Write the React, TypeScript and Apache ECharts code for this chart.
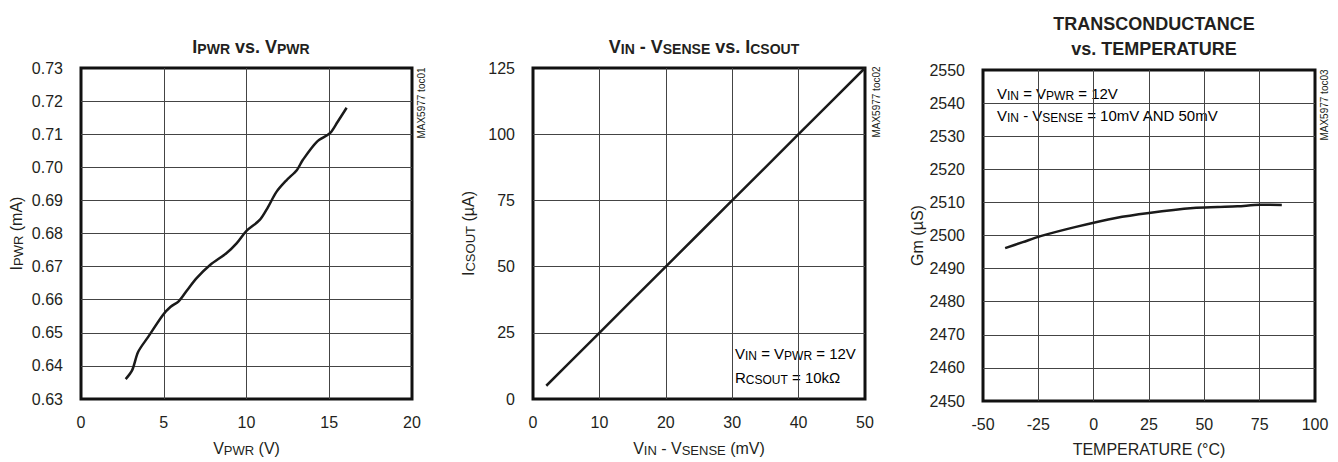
import React, { useEffect, useRef } from "react";
import * as echarts from "echarts";

const FONT = "'Liberation Sans Narrow','Arial Narrow','Liberation Sans',Arial,sans-serif";
const INK = "#231f20";

// Chart 1: IPWR vs VPWR
const vpwr = [2.7, 3.1, 3.45, 4.05, 4.95, 5.4, 5.9, 6.4, 7.0, 7.8, 8.8, 9.4, 10.0, 10.8, 11.3, 11.8, 12.4, 13.05, 13.4, 14.25, 15.04, 15.5, 16.05];
const ipwr = [0.636, 0.6388, 0.6442, 0.6487, 0.6554, 0.6578, 0.6595, 0.6628, 0.6666, 0.6705, 0.6741, 0.677, 0.6808, 0.6841, 0.688, 0.6925, 0.696, 0.6992, 0.7022, 0.7077, 0.7103, 0.7137, 0.718];

// Chart 2: VIN - VSENSE vs ICSOUT
const vsense = [2, 5, 10, 15, 20, 25, 30, 35, 40, 45, 50];
const icsout = [5, 12.5, 25, 37.5, 50, 62.5, 75, 87.5, 100, 112.5, 125];

// Chart 3: Transconductance vs temperature
const temps = [-40, -32, -24, -8, 10, 25, 45, 56, 65, 75, 85];
const gm = [2496.2, 2498, 2499.8, 2502.6, 2505.3, 2506.8, 2508.3, 2508.6, 2508.8, 2509.3, 2509.2];

const xTicks1 = [0, 20, 5];
const yTicks1 = [0.63, 0.73, 0.01];
const xTicks2 = [0, 50, 10];
const yTicks2 = [0, 125, 25];
const xTicks3 = [-50, 100, 25];
const yTicks3 = [2450, 2550, 10];

const zip = (a: number[], b: number[]) => a.map((v, i) => [v, b[i]]);

function rich(size: number, sub: number, bold = false, lineHeight?: number) {
  const w = bold ? "bold" : "normal";
  const lh = lineHeight ? { lineHeight } : {};
  return {
    n: { fontSize: size, fontFamily: FONT, color: INK, fontWeight: w, ...lh },
    s: { fontSize: sub, fontFamily: FONT, color: INK, fontWeight: w, padding: [Math.round(size * 0.3), 0, 0, 0], ...lh },
  };
}

export default function App() {
  const ref = useRef<HTMLDivElement>(null);
  useEffect(() => {
    if (!ref.current) return;
    const chart = echarts.init(ref.current, undefined, { renderer: "svg" });
    const grids = [
      { left: 81, top: 68, width: 331, height: 331 },
      { left: 533, top: 68, width: 332, height: 331 },
      { left: 983, top: 70, width: 332, height: 331 },
    ];
    const gridStyle = { show: true, borderColor: "#111", borderWidth: 3, backgroundColor: "#fff" };
    const splitLine = { show: true, showMinLine: false, showMaxLine: false, lineStyle: { color: "#444", width: 1 } };
    const mkX = (i: number, t: number[], name: string) => ({
      type: "value", gridIndex: i, min: t[0], max: t[1], interval: t[2],
      axisLine: { show: false }, axisTick: { show: false }, splitLine,
      axisLabel: { fontFamily: FONT, fontSize: 16, color: INK, margin: 15 },
      name, nameLocation: "middle", nameGap: 40,
      nameTextStyle: { rich: rich(16, 13) },
    });
    const mkY = (i: number, t: number[], name: string, fmt: (v: number) => string) => ({
      type: "value", gridIndex: i, min: t[0], max: t[1], interval: t[2],
      axisLine: { show: false }, axisTick: { show: false }, splitLine,
      axisLabel: { fontFamily: FONT, fontSize: 16, color: INK, margin: 18, formatter: fmt },
      name, nameLocation: "middle", nameGap: 56, nameRotate: 90,
      nameTextStyle: { rich: rich(16, 13) },
    });
    const lineSeries = (i: number, data: number[][], smooth: number) => ({
      type: "line", xAxisIndex: i, yAxisIndex: i, data, symbol: "none", smooth,
      lineStyle: { color: "#1a1a1a", width: 2.5 }, z: 5,
    });
    const sideText = (x: number, y: number, text: string) => ({
      type: "text", x, y, rotation: Math.PI / 2, z: 50,
      style: { text, fontFamily: FONT, fontSize: 10, fill: INK, align: "center", verticalAlign: "middle" },
    });
    const titleRich = rich(18, 14, true);
    chart.setOption({
      animation: false,
      grid: grids.map((g) => ({ ...g, ...gridStyle })),
      title: [
        { text: "{n|I}{s|PWR}{n| vs. V}{s|PWR}", left: 246, top: 32, textAlign: "center", textStyle: { rich: titleRich } },
        { text: "{n|V}{s|IN}{n| - V}{s|SENSE}{n| vs. I}{s|CSOUT}", left: 699, top: 32, textAlign: "center", textStyle: { rich: titleRich } },
        { text: "{n|TRANSCONDUCTANCE}\n{n|vs. TEMPERATURE}", left: 1149, top: 6, textAlign: "center", textStyle: { rich: { n: { ...titleRich.n, lineHeight: 25 } } } },
      ],
      xAxis: [
        mkX(0, xTicks1, "{n|V}{s|PWR}{n| (V)}"),
        mkX(1, xTicks2, "{n|V}{s|IN}{n| - V}{s|SENSE}{n| (mV)}"),
        mkX(2, xTicks3, "{n|TEMPERATURE (°C)}"),
      ],
      yAxis: [
        mkY(0, yTicks1, "{n|I}{s|PWR}{n| (mA)}", (v: number) => v.toFixed(2)),
        mkY(1, yTicks2, "{n|I}{s|CSOUT}{n| (µA)}", (v: number) => String(v)),
        mkY(2, yTicks3, "{n|Gm (µS)}", (v: number) => String(v)),
      ],
      series: [
        lineSeries(0, zip(vpwr, ipwr), 0.3),
        lineSeries(1, zip(vsense, icsout), 0),
        lineSeries(2, zip(temps, gm), 0.3),
      ],
      graphic: [
        sideText(421, 103, "MAX5977 toc01"),
        sideText(876, 102, "MAX5977 toc02"),
        sideText(1324, 105, "MAX5977 toc03"),
        {
          type: "group", z: 40, children: [
            { type: "rect", shape: { x: 989, y: 80, width: 225, height: 44 }, style: { fill: "#fff" } },
            { type: "text", x: 997, y: 82, style: { text: "{n|V}{s|IN}{n| = V}{s|PWR}{n| = 12V}\n{n|V}{s|IN}{n| - V}{s|SENSE}{n| = 10mV AND 50mV}", rich: rich(15, 12, false, 22) } },
          ],
        },
        {
          type: "group", z: 40, children: [
            { type: "rect", shape: { x: 733, y: 337, width: 130, height: 53 }, style: { fill: "#fff" } },
            { type: "text", x: 735, y: 341, style: { text: "{n|V}{s|IN}{n| = V}{s|PWR}{n| = 12V}\n{n|R}{s|CSOUT}{n| = 10kΩ}", rich: rich(15, 12, false, 24) } },
          ],
        },
      ],
    });
    return () => chart.dispose();
  }, []);
  return <div ref={ref} style={{ position: "absolute", left: 0, top: 0, width: 1338, height: 462 }} />;
}
